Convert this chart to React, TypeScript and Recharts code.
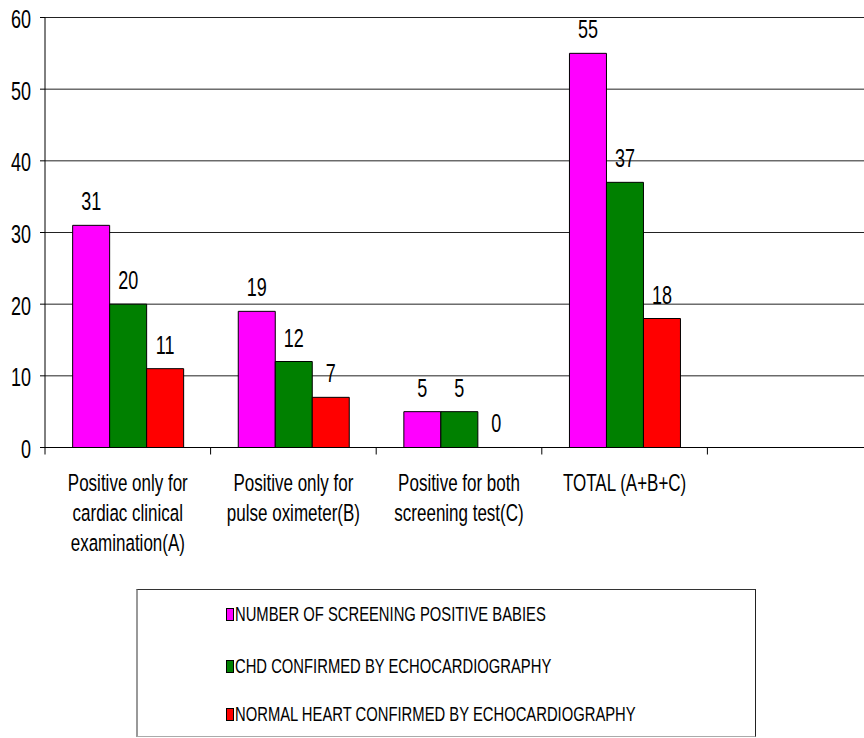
import React from "react";
import { BarChart, Bar, XAxis, YAxis, CartesianGrid, LabelList, Legend } from "recharts";

const categories = [
  "Positive only for\ncardiac clinical\nexamination(A)",
  "Positive only for\npulse oximeter(B)",
  "Positive for both\nscreening test(C)",
  "TOTAL (A+B+C)",
  "",
];
const screeningPositive: (number | null)[] = [31, 19, 5, 55, null];
const chdConfirmed: (number | null)[] = [20, 12, 5, 37, null];
const normalHeart: (number | null)[] = [11, 7, 0, 18, null];
const yTicks = [0, 10, 20, 30, 40, 50, 60];

const seriesNames = [
  "NUMBER OF SCREENING POSITIVE BABIES",
  "CHD CONFIRMED BY ECHOCARDIOGRAPHY",
  "NORMAL HEART CONFIRMED BY ECHOCARDIOGRAPHY",
];
const seriesColors = ["#FF00FF", "#008000", "#FF0000"];

const data = categories.map((c, i) => ({
  name: c,
  s0: screeningPositive[i],
  s1: chdConfirmed[i],
  s2: normalHeart[i],
}));

const CHART_W = 874;
const CHART_H = 738;
const MARGIN = { top: 17.5, right: 1, bottom: 250.5, left: 0 };
const Y_W = 45;
const BAND = (CHART_W - MARGIN.left - MARGIN.right - Y_W) / categories.length;
const FONT = "'Liberation Sans', Arial, sans-serif";
const SY = 1.42;

const SText = ({ x, y, anchor = "middle", size = 17, children }: any) => (
  <text
    transform={`translate(${x},${y}) scale(1,${SY})`}
    x={0}
    y={0}
    textAnchor={anchor}
    fontSize={size}
    fontFamily={FONT}
    fill="#000"
  >
    {children}
  </text>
);

const YTick = (props: any) => {
  const { x, y, payload } = props;
  return (
    <SText x={x} y={y + 10.5} anchor="end" size={18}>
      {payload.value}
    </SText>
  );
};

const XTick = (props: any) => {
  const { x, y, payload } = props;
  const lines = String(payload.value).split("\n").filter((l) => l.length);
  const bx = x - BAND / 2;
  return (
    <g>
      <line x1={bx} y1={y} x2={bx} y2={y + 7} stroke="#000" strokeWidth={1} />
      {lines.map((l, i) => (
        <SText key={i} x={x} y={y + 43 + i * 30} size={17}>
          {l}
        </SText>
      ))}
    </g>
  );
};

const ValueLabel = (props: any) => {
  const { x, y, width, value } = props;
  if (value === null || value === undefined) return null;
  return (
    <SText x={Number(x) + Number(width) / 2} y={Number(y) - 15} size={18}>
      {value}
    </SText>
  );
};

const LegendBox = () => (
  <div
    style={{
      position: "relative",
      width: 620,
      height: 148,
      boxSizing: "border-box",
      borderTop: "1.5px solid #333",
      borderRight: "1.5px solid #222",
      borderBottom: "1.5px solid #aaa",
      borderLeft: "2px solid #999",
      background: "#fff",
      fontFamily: FONT,
    }}
  >
    {seriesNames.map((n, i) => (
      <div
        key={n}
        style={{
          position: "absolute",
          left: 88,
          top: [24, 76, 124][i] - 10,
          height: 20,
          display: "flex",
          alignItems: "center",
          whiteSpace: "nowrap",
        }}
      >
        <span
          style={{
            display: "inline-block",
            width: 6,
            height: 11,
            border: "1px solid #000",
            background: seriesColors[i],
            marginRight: 1,
          }}
        />
        <span
          style={{
            display: "inline-block",
            fontSize: 14.8,
            lineHeight: "20px",
            color: "#000",
            transform: `scaleY(${SY})`,
            transformOrigin: "center",
          }}
        >
          {n}
        </span>
      </div>
    ))}
  </div>
);

export default function App() {
  return (
    <div
      style={{
        position: "absolute",
        left: 0,
        top: 0,
        width: 864,
        height: 738,
        overflow: "hidden",
        background: "#fff",
      }}
    >
      <BarChart
        width={CHART_W}
        height={CHART_H}
        data={data}
        margin={MARGIN}
        barCategoryGap="16.7%"
        barGap={0}
      >
        <CartesianGrid horizontal={true} vertical={false} stroke="#222" strokeWidth={1} />
        <XAxis
          dataKey="name"
          height={40}
          interval={0}
          tickLine={false}
          tickSize={0}
          tickMargin={0}
          axisLine={{ stroke: "#000", strokeWidth: 1 }}
          tick={<XTick />}
        />
        <YAxis
          width={Y_W}
          domain={[0, 60]}
          ticks={yTicks}
          interval={0}
          tickSize={5}
          tickMargin={9}
          tickLine={{ stroke: "#000" }}
          axisLine={{ stroke: "#000", strokeWidth: 1 }}
          tick={<YTick />}
        />
        <Legend
          layout="horizontal"
          verticalAlign="middle"
          align="center"
          wrapperStyle={{ left: 136, top: 589, width: 620, height: 148 }}
          content={() => <LegendBox />}
        />
        {["s0", "s1", "s2"].map((k, i) => (
          <Bar
            key={k}
            dataKey={k}
            name={seriesNames[i]}
            fill={seriesColors[i]}
            stroke="#000"
            strokeWidth={1}
            minPointSize={0.01}
            isAnimationActive={false}
          >
            <LabelList dataKey={k} content={<ValueLabel />} />
          </Bar>
        ))}
      </BarChart>
    </div>
  );
}
